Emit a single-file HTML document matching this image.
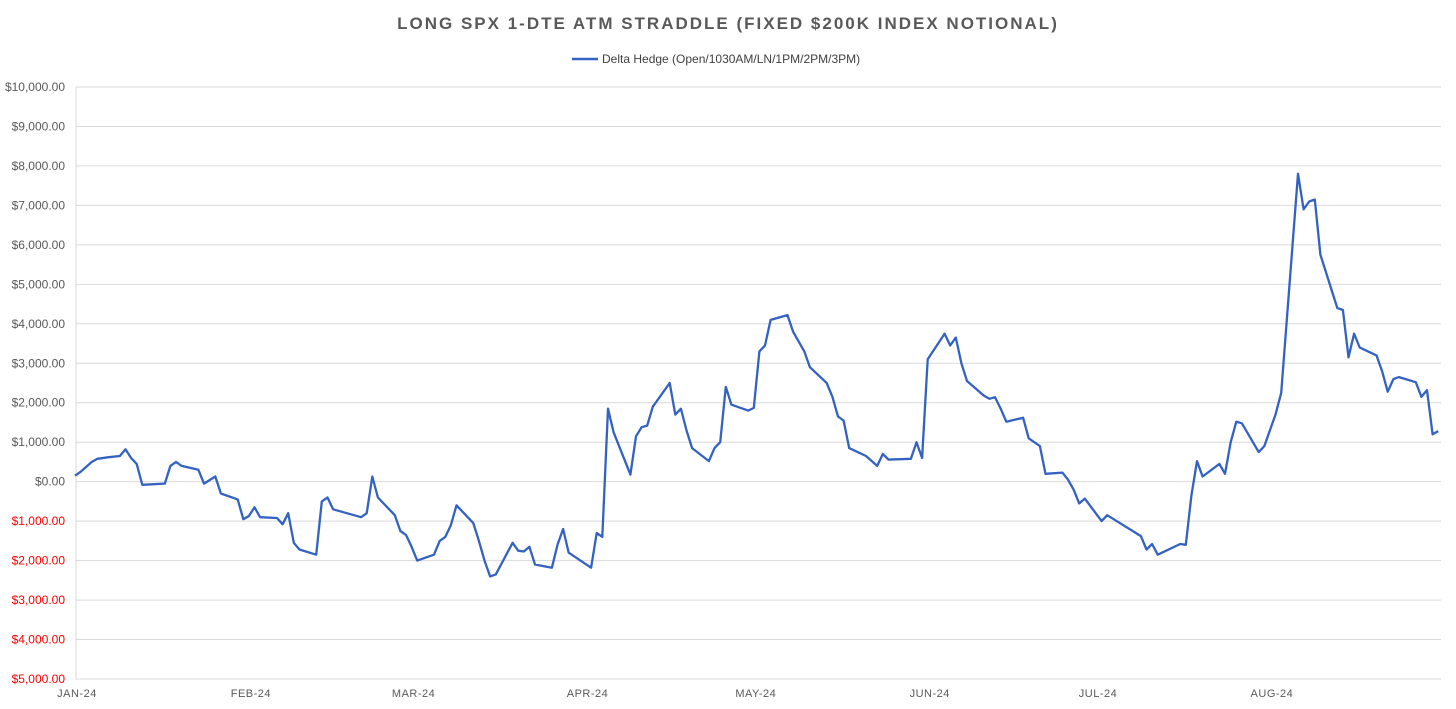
<!DOCTYPE html>
<html><head><meta charset="utf-8"><style>
body{margin:0;background:#fff;font-family:"Liberation Sans",sans-serif;}
svg{display:block}
</style></head><body>
<svg id="chart" width="1456" height="709" xmlns="http://www.w3.org/2000/svg">
<text x="728" y="29" text-anchor="middle" font-size="17" font-weight="bold" fill="#595959" letter-spacing="2">LONG SPX 1-DTE ATM STRADDLE (FIXED $200K INDEX NOTIONAL)</text>
<g>
<line x1="572" y1="59" x2="598" y2="59" stroke="#3462c2" stroke-width="2.5"/>
<text x="602" y="63" font-size="12" fill="#404040">Delta Hedge (Open/1030AM/LN/1PM/2PM/3PM)</text>
</g>
<g id="grid"></g><g id="yax"></g><g id="xax"></g><g id="series"></g>
</svg>
<script>
const days=[0,1,3,4,6,8,9,10,11,12,16,17,18,19,22,23,25,26,29,30,31,32,33,36,37,38,39,40,43,44,45,46,51,52,53,54,57,58,59,60,61,64,65,66,67,68,71,72,73,74,75,78,79,80,81,82,85,86,87,88,92,93,94,95,96,99,100,101,102,103,106,107,108,109,110,113,114,115,116,117,120,121,122,123,124,127,128,130,131,134,135,136,137,138,141,143,144,145,149,150,151,152,155,156,157,158,159,162,163,164,165,166,169,170,172,173,176,177,178,179,180,183,184,190,191,192,193,197,198,199,200,201,204,205,206,207,208,211,212,214,215,218,219,220,221,222,225,226,227,228,229,232,233,234,235,236,239,240,241,242,243];
const values=[150,250,500,580,620,650,820,600,450,-80,-50,400,500,400,300,-50,130,-300,-450,-950,-870,-650,-900,-920,-1080,-800,-1550,-1720,-1850,-500,-400,-700,-900,-800,130,-400,-850,-1250,-1350,-1650,-2000,-1850,-1500,-1400,-1100,-600,-1050,-1500,-2000,-2400,-2350,-1550,-1750,-1770,-1650,-2100,-2180,-1600,-1200,-1800,-2180,-1300,-1400,1850,1250,180,1150,1380,1420,1900,2500,1700,1850,1300,850,520,850,1000,2400,1950,1800,1870,3300,3450,4100,4220,3800,3300,2900,2500,2150,1650,1550,850,650,400,700,560,580,1000,600,3100,3750,3450,3650,3000,2550,2180,2100,2140,1850,1520,1620,1100,900,200,230,50,-200,-550,-430,-1000,-850,-1380,-1720,-1580,-1850,-1580,-1600,-350,520,130,450,200,1000,1520,1480,750,900,1700,2250,7800,6900,7100,7150,5750,4400,4350,3150,3750,3400,3200,2800,2280,2600,2650,2520,2150,2320,1200,1280];
const yTicks=[10000,9000,8000,7000,6000,5000,4000,3000,2000,1000,0,-1000,-2000,-3000,-4000,-5000];
const monthLabels=["JAN-24","FEB-24","MAR-24","APR-24","MAY-24","JUN-24","JUL-24","AUG-24"];
const monthDays=[0,31,60,91,121,152,182,213];
const NS="http://www.w3.org/2000/svg";
const L=76,R=1441,T=87,B=679;
const x=d=>75+d*5.61;
const y=v=>T+(10000-v)/15000*(B-T);
const fmt=v=>"$"+Math.abs(v).toLocaleString("en-US",{minimumFractionDigits:2,maximumFractionDigits:2});
const grid=document.getElementById('grid'),yax=document.getElementById('yax'),xax=document.getElementById('xax');
yTicks.forEach(v=>{
 const ln=document.createElementNS(NS,'line');
 
 
 ln.setAttribute('x1',L);ln.setAttribute('x2',R);ln.setAttribute('y1',y(v));ln.setAttribute('y2',y(v));
 ln.setAttribute('stroke','#d9d9d9');ln.setAttribute('stroke-width','1');
 grid.appendChild(ln);
 const t=document.createElementNS(NS,'text');
 
 
 t.setAttribute('x',65);t.setAttribute('y',y(v)+4);t.setAttribute('text-anchor','end');
 t.setAttribute('font-size','12');t.setAttribute('fill',v<0?'#ff0000':'#595959');
 t.textContent=fmt(v);yax.appendChild(t);
});
const ax=document.createElementNS(NS,'line');


ax.setAttribute('x1',L);ax.setAttribute('x2',L);ax.setAttribute('y1',T);ax.setAttribute('y2',B);
ax.setAttribute('stroke','#d9d9d9');grid.appendChild(ax);
monthLabels.forEach((m,i)=>{
 const t=document.createElementNS(NS,'text');
 
 
 t.setAttribute('x',x(monthDays[i])+2);t.setAttribute('y',697);t.setAttribute('text-anchor','middle');
 t.setAttribute('font-size','11');t.setAttribute('fill','#595959');t.setAttribute('letter-spacing','0.5');
 t.textContent=m;xax.appendChild(t);
});
const p=document.createElementNS(NS,'path');


p.setAttribute('d',days.map((d,i)=>(i?'L':'M')+x(d).toFixed(1)+','+y(values[i]).toFixed(1)).join(''));
p.setAttribute('fill','none');p.setAttribute('stroke','#3462c2');p.setAttribute('stroke-width','2.3');p.setAttribute('stroke-linejoin','round');
document.getElementById('series').appendChild(p);
</script>
</body></html>
